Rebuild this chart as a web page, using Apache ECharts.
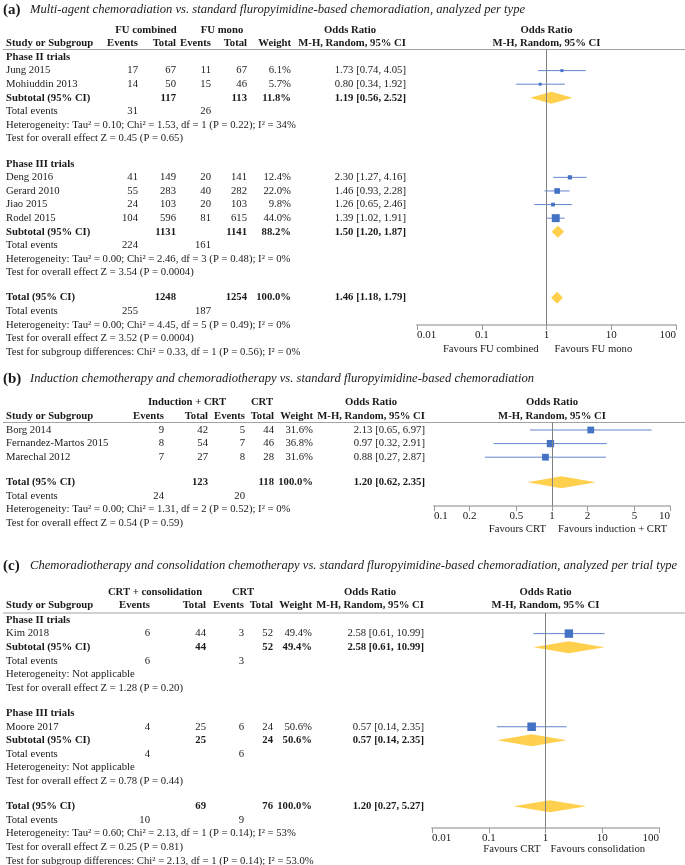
<!DOCTYPE html>
<html>
<head>
<meta charset="utf-8">
<script src="https://cdn.jsdelivr.net/npm/echarts@6/dist/echarts.min.js"></script>
<style>
  html, body { margin: 0; padding: 0; background: #fff; }
  #chart { width: 685px; height: 865px; }
</style>
</head>
<body>
<div id="chart"></div>
<script>
// ---------- (a) multi-agent vs FU mono ----------
var aStudy = ['Jung 2015', 'Mohiuddin 2013', 'Deng 2016', 'Gerard 2010', 'Jiao 2015', 'Rodel 2015'];
var aSubgroupOf = [0, 0, 1, 1, 1, 1];
var aEvents1 = [17, 14, 41, 55, 24, 104];
var aTotal1 = [67, 50, 149, 283, 103, 596];
var aEvents2 = [11, 15, 20, 40, 20, 81];
var aTotal2 = [67, 46, 141, 282, 103, 615];
var aWeight = [6.1, 5.7, 12.4, 22.0, 9.8, 44.0];
var aOR = [1.73, 0.80, 2.30, 1.46, 1.26, 1.39];
var aLow = [0.74, 0.34, 1.27, 0.93, 0.65, 1.02];
var aHigh = [4.05, 1.92, 4.16, 2.28, 2.46, 1.91];
var aSubgroups = ['Phase II trials', 'Phase III trials'];
var aSubTotal1 = [117, 1131];
var aSubTotal2 = [113, 1141];
var aSubWeight = [11.8, 88.2];
var aSubOR = [1.19, 1.50];
var aSubLow = [0.56, 1.20];
var aSubHigh = [2.52, 1.87];
var aSubEvents1 = [31, 224];
var aSubEvents2 = [26, 161];
var aSubHet = ['Heterogeneity: Tau\u00b2 = 0.10; Chi\u00b2 = 1.53, df = 1 (P = 0.22); I\u00b2 = 34%',
               'Heterogeneity: Tau\u00b2 = 0.00; Chi\u00b2 = 2.46, df = 3 (P = 0.48); I\u00b2 = 0%'];
var aSubTest = ['Test for overall effect Z = 0.45 (P = 0.65)', 'Test for overall effect Z = 3.54 (P = 0.0004)'];
var aAllTotals = [1248, 1254];
var aAllEvents = [255, 187];
var aAllOR = [1.46, 1.18, 1.79];
var aAllNotes = ['Heterogeneity: Tau\u00b2 = 0.00; Chi\u00b2 = 4.45, df = 5 (P = 0.49); I\u00b2 = 0%',
                 'Test for overall effect Z = 3.52 (P = 0.0004)',
                 'Test for subgroup differences: Chi\u00b2 = 0.33, df = 1 (P = 0.56); I\u00b2 = 0%'];
var aArms = ['FU combined', 'FU mono'];
var aFavours = ['Favours FU combined', 'Favours FU mono'];
var aTicks = [0.01, 0.1, 1, 10, 100];

// ---------- (b) induction + CRT vs CRT ----------
var bStudy = ['Borg 2014', 'Fernandez-Martos 2015', 'Marechal 2012'];
var bEvents1 = [9, 8, 7];
var bTotal1 = [42, 54, 27];
var bEvents2 = [5, 7, 8];
var bTotal2 = [44, 46, 28];
var bWeight = [31.6, 36.8, 31.6];
var bOR = [2.13, 0.97, 0.88];
var bLow = [0.65, 0.32, 0.27];
var bHigh = [6.97, 2.91, 2.87];
var bAllTotals = [123, 118];
var bAllEvents = [24, 20];
var bAllOR = [1.20, 0.62, 2.35];
var bAllNotes = ['Heterogeneity: Tau\u00b2 = 0.00; Chi\u00b2 = 1.31, df = 2 (P = 0.52); I\u00b2 = 0%',
                 'Test for overall effect Z = 0.54 (P = 0.59)'];
var bArms = ['Induction + CRT', 'CRT'];
var bFavours = ['Favours CRT', 'Favours induction + CRT'];
var bTicks = [0.1, 0.2, 0.5, 1, 2, 5, 10];

// ---------- (c) CRT + consolidation vs CRT ----------
var cStudy = ['Kim 2018', 'Moore 2017'];
var cSubgroupOf = [0, 1];
var cEvents1 = [6, 4];
var cTotal1 = [44, 25];
var cEvents2 = [3, 6];
var cTotal2 = [52, 24];
var cWeight = [49.4, 50.6];
var cOR = [2.58, 0.57];
var cLow = [0.61, 0.14];
var cHigh = [10.99, 2.35];
var cSubgroups = ['Phase II trials', 'Phase III trials'];
var cSubTotal1 = [44, 25];
var cSubTotal2 = [52, 24];
var cSubWeight = [49.4, 50.6];
var cSubOR = [2.58, 0.57];
var cSubLow = [0.61, 0.14];
var cSubHigh = [10.99, 2.35];
var cSubEvents1 = [6, 4];
var cSubEvents2 = [3, 6];
var cSubHet = ['Heterogeneity: Not applicable', 'Heterogeneity: Not applicable'];
var cSubTest = ['Test for overall effect Z = 1.28 (P = 0.20)', 'Test for overall effect Z = 0.78 (P = 0.44)'];
var cAllTotals = [69, 76];
var cAllEvents = [10, 9];
var cAllOR = [1.20, 0.27, 5.27];
var cAllNotes = ['Heterogeneity: Tau\u00b2 = 0.60; Chi\u00b2 = 2.13, df = 1 (P = 0.14); I\u00b2 = 53%',
                 'Test for overall effect Z = 0.25 (P = 0.81)',
                 'Test for subgroup differences: Chi\u00b2 = 2.13, df = 1 (P = 0.14); I\u00b2 = 53.0%'];
var cArms = ['CRT + consolidation', 'CRT'];
var cFavours = ['Favours CRT', 'Favours consolidation'];
var cTicks = [0.01, 0.1, 1, 10, 100];

// ---------- look ----------
var SERIF = '"Liberation Serif", "Times New Roman", serif';
var INK = '#1a1a1a';
var ROW_H = 13.6;   // px per table row
var GAP = 0.85;     // blank line between blocks, in rows
var FONTS = {
  plain: '10.7px ' + SERIF,
  bold: 'bold 10.7px ' + SERIF,
  title: 'italic 12.6px ' + SERIF,
  label: 'bold 15px ' + SERIF
};
var ALIGN = { label: 'left', title: 'left', study: 'left', ev1: 'right', tot1: 'right', ev2: 'right',
  tot2: 'right', wt: 'right', ci: 'right', g1: 'center', g2: 'center', orC: 'center' };

var panels = [
  { label: '(a)', title: 'Multi-agent chemoradiation vs. standard fluropyimidine-based chemoradiation, analyzed per type',
    study: aStudy, sub: aSubgroupOf, ev1: aEvents1, tot1: aTotal1, ev2: aEvents2, tot2: aTotal2, wt: aWeight,
    or: aOR, lo: aLow, hi: aHigh, subNames: aSubgroups, subTot1: aSubTotal1, subTot2: aSubTotal2,
    subWt: aSubWeight, subOR: aSubOR, subLo: aSubLow, subHi: aSubHigh, subEv1: aSubEvents1, subEv2: aSubEvents2,
    subHet: aSubHet, subTest: aSubTest, allTot: aAllTotals, allEv: aAllEvents, allOR: aAllOR, allNotes: aAllNotes,
    arms: aArms, favours: aFavours, ticks: aTicks,
    L: { firstY: 57, lineY: 49.5, axisY: 325, plotLeft: 417, plotRight: 676, titleR: -3.46, head1R: -1.99, head2R: -1.03,
         favDy: 24,
         cols: { label: 3, title: 30, study: 6, ev1: 138, tot1: 176, ev2: 211, tot2: 247, wt: 291, ci: 406,
                 g1: 146, g2: 222, orC: 350, fav: 8 } } },
  { label: '(b)', title: 'Induction chemotherapy and chemoradiotherapy vs. standard fluropyimidine-based chemoradiation',
    study: bStudy, ev1: bEvents1, tot1: bTotal1, ev2: bEvents2, tot2: bTotal2, wt: bWeight,
    or: bOR, lo: bLow, hi: bHigh, allTot: bAllTotals, allEv: bAllEvents, allOR: bAllOR, allNotes: bAllNotes,
    arms: bArms, favours: bFavours, ticks: bTicks,
    L: { firstY: 430, lineY: 422.5, axisY: 506, plotLeft: 434, plotRight: 670, titleR: -3.75, head1R: -2.06, head2R: -1.03,
         favDy: 23,
         cols: { label: 3, title: 30, study: 6, ev1: 164, tot1: 208, ev2: 245, tot2: 274, wt: 313, ci: 425,
                 g1: 187, g2: 262, orC: 371, fav: 6 } } },
  { label: '(c)', title: 'Chemoradiotherapy and consolidation chemotherapy vs. standard fluropyimidine-based chemoradiation, analyzed per trial type',
    study: cStudy, sub: cSubgroupOf, ev1: cEvents1, tot1: cTotal1, ev2: cEvents2, tot2: cTotal2, wt: cWeight,
    or: cOR, lo: cLow, hi: cHigh, subNames: cSubgroups, subTot1: cSubTotal1, subTot2: cSubTotal2,
    subWt: cSubWeight, subOR: cSubOR, subLo: cSubLow, subHi: cSubHigh, subEv1: cSubEvents1, subEv2: cSubEvents2,
    subHet: cSubHet, subTest: cSubTest, allTot: cAllTotals, allEv: cAllEvents, allOR: cAllOR, allNotes: cAllNotes,
    arms: cArms, favours: cFavours, ticks: cTicks,
    L: { firstY: 620, lineY: 613, axisY: 828, plotLeft: 432, plotRight: 659, titleR: -3.97, head1R: -2.06, head2R: -1.1,
         favDy: 21,
         cols: { label: 3, title: 30, study: 6, ev1: 150, tot1: 206, ev2: 244, tot2: 273, wt: 312, ci: 424,
                 g1: 155, g2: 243, orC: 370, fav: 5 } } }
];

function lg(v) { return Math.log10(v); }
function pct(w) { return w.toFixed(1) + '%'; }
function ciText(o, l, h) { return o.toFixed(2) + ' [' + l.toFixed(2) + ', ' + h.toFixed(2) + ']'; }

// turn one panel's arrays into table rows, CI marks and diamonds (row index = y value)
function buildPanel(d) {
  var L = d.L, rows = [], cis = [], dias = [], r = 0;
  function add(cells) { rows.push({ r: r, cells: cells }); r += 1; }
  function studyRow(i) {
    cis.push([lg(d.lo[i]), lg(d.hi[i]), lg(d.or[i]), r, d.wt[i]]);
    add([['study', d.study[i]], ['ev1', d.ev1[i]], ['tot1', d.tot1[i]], ['ev2', d.ev2[i]], ['tot2', d.tot2[i]],
         ['wt', pct(d.wt[i])], ['ci', ciText(d.or[i], d.lo[i], d.hi[i])]]);
  }
  rows.push({ r: L.titleR, cells: [['label', d.label, 'label'], ['title', d.title, 'title']] });
  rows.push({ r: L.head1R, cells: [['g1', d.arms[0], 'bold'], ['g2', d.arms[1], 'bold'],
                                   ['orC', 'Odds Ratio', 'bold'], ['plot', 'Odds Ratio', 'bold']] });
  rows.push({ r: L.head2R, cells: [['study', 'Study or Subgroup', 'bold'], ['ev1', 'Events', 'bold'], ['tot1', 'Total', 'bold'],
                                   ['ev2', 'Events', 'bold'], ['tot2', 'Total', 'bold'], ['wt', 'Weight', 'bold'],
                                   ['ci', 'M-H, Random, 95% CI', 'bold'], ['plot', 'M-H, Random, 95% CI', 'bold']] });
  if (d.subNames) {
    d.subNames.forEach(function (name, g) {
      add([['study', name, 'bold']]);
      d.study.forEach(function (s, i) { if (d.sub[i] === g) studyRow(i); });
      dias.push([lg(d.subLo[g]), lg(d.subHi[g]), lg(d.subOR[g]), r]);
      add([['study', 'Subtotal (95% CI)', 'bold'], ['tot1', d.subTot1[g], 'bold'], ['tot2', d.subTot2[g], 'bold'],
           ['wt', pct(d.subWt[g]), 'bold'], ['ci', ciText(d.subOR[g], d.subLo[g], d.subHi[g]), 'bold']]);
      add([['study', 'Total events'], ['ev1', d.subEv1[g]], ['ev2', d.subEv2[g]]]);
      add([['study', d.subHet[g]]]);
      add([['study', d.subTest[g]]]);
      r += GAP;
    });
  } else {
    d.study.forEach(function (s, i) { studyRow(i); });
    r += GAP;
  }
  dias.push([lg(d.allOR[1]), lg(d.allOR[2]), lg(d.allOR[0]), r]);
  add([['study', 'Total (95% CI)', 'bold'], ['tot1', d.allTot[0], 'bold'], ['tot2', d.allTot[1], 'bold'],
       ['wt', '100.0%', 'bold'], ['ci', ciText(d.allOR[0], d.allOR[1], d.allOR[2]), 'bold']]);
  add([['study', 'Total events'], ['ev1', d.allEv[0]], ['ev2', d.allEv[1]]]);
  d.allNotes.forEach(function (t) { add([['study', t]]); });
  rows.push({ r: (L.axisY + L.favDy - L.firstY) / ROW_H, cells: [['favL', d.favours[0]], ['favR', d.favours[1]]] });
  return { rows: rows, cis: cis, dias: dias };
}

function tableRenderer(rows, cols) {
  return function (params, api) {
    var row = rows[params.dataIndex];
    var pt = api.coord([0, row.r]);
    return {
      type: 'group',
      children: row.cells.map(function (c) {
        var key = c[0], x, align;
        if (key === 'plot') { x = pt[0]; align = 'center'; }
        else if (key === 'favL') { x = pt[0] - cols.fav; align = 'right'; }
        else if (key === 'favR') { x = pt[0] + cols.fav; align = 'left'; }
        else { x = cols[key]; align = ALIGN[key]; }
        return { type: 'text', x: x, y: pt[1],
                 style: { text: String(c[1]), font: FONTS[c[2] || 'plain'], fill: INK, align: align, verticalAlign: 'middle' } };
      })
    };
  };
}

function renderCI(params, api) {
  var r = api.value(3);
  var lo = api.coord([api.value(0), r]), hi = api.coord([api.value(1), r]), mid = api.coord([api.value(2), r]);
  var s = 1.2 * Math.sqrt(api.value(4));
  return {
    type: 'group',
    children: [
      { type: 'line', shape: { x1: lo[0], y1: lo[1], x2: hi[0], y2: hi[1] }, style: { stroke: '#6585cd', lineWidth: 1 } },
      { type: 'rect', shape: { x: mid[0] - s / 2, y: mid[1] - s / 2, width: s, height: s }, style: { fill: '#4472c4' } }
    ]
  };
}

function renderDiamond(params, api) {
  var r = api.value(3);
  var lo = api.coord([api.value(0), r]), hi = api.coord([api.value(1), r]), mid = api.coord([api.value(2), r]);
  var h = 6;
  return {
    type: 'polygon',
    shape: { points: [[lo[0], lo[1]], [mid[0], mid[1] - h], [hi[0], hi[1]], [mid[0], mid[1] + h]] },
    style: { fill: '#ffd04d' }
  };
}

var option = { animation: false, backgroundColor: '#fff', grid: [], xAxis: [], yAxis: [], series: [], graphic: [] };

panels.forEach(function (d, k) {
  var L = d.L, built = buildPanel(d);
  var yMin = (L.lineY - L.firstY) / ROW_H, yMax = (L.axisY - L.firstY) / ROW_H;
  var tickLogs = d.ticks.map(lg);
  option.grid.push({ left: L.plotLeft, width: L.plotRight - L.plotLeft, top: L.lineY, height: L.axisY - L.lineY });
  option.xAxis.push({
    gridIndex: k, type: 'value', position: 'bottom',
    min: tickLogs[0], max: tickLogs[tickLogs.length - 1],
    axisLine: { show: true, onZero: false, lineStyle: { color: '#c3c3c3', width: 2 } },
    axisTick: { show: true, length: 5, customValues: tickLogs, lineStyle: { color: '#9a9a9a', width: 1 } },
    axisLabel: {
      show: true, customValues: tickLogs, margin: 5, color: INK, fontFamily: SERIF, fontSize: 11,
      alignMinLabel: 'left', alignMaxLabel: 'right',
      formatter: function (v) { return String(+Math.pow(10, v).toPrecision(2)); }
    },
    splitLine: { show: false }
  });
  option.yAxis.push({ gridIndex: k, type: 'value', inverse: true, min: yMin, max: yMax, show: false });

  // line of no effect
  option.series.push({
    type: 'scatter', xAxisIndex: k, yAxisIndex: k, data: [], silent: true,
    markLine: { silent: true, symbol: ['none', 'none'], label: { show: false },
                lineStyle: { color: '#808080', width: 1, type: 'solid' }, data: [{ xAxis: 0 }] }
  });
  option.series.push({
    type: 'custom', xAxisIndex: k, yAxisIndex: k, encode: { x: [0, 1, 2], y: 3 },
    data: built.dias, renderItem: renderDiamond, silent: true, z: 3
  });
  option.series.push({
    type: 'custom', xAxisIndex: k, yAxisIndex: k, encode: { x: [0, 1, 2], y: 3 },
    data: built.cis, renderItem: renderCI, silent: true, z: 4
  });
  option.series.push({
    type: 'custom', xAxisIndex: k, yAxisIndex: k, encode: { x: 0, y: 1 }, clip: false,
    data: built.rows.map(function (row) { return [0, row.r]; }),
    renderItem: tableRenderer(built.rows, L.cols), silent: true, z: 5
  });
  option.graphic.push({
    type: 'line', silent: true,
    shape: { x1: 3, y1: L.lineY, x2: 685, y2: L.lineY },
    style: { stroke: '#a3a3a3', lineWidth: 1 }
  });
});

var chart = echarts.init(document.getElementById('chart'), null, { renderer: 'canvas' });
chart.setOption(option);
</script>
</body>
</html>
